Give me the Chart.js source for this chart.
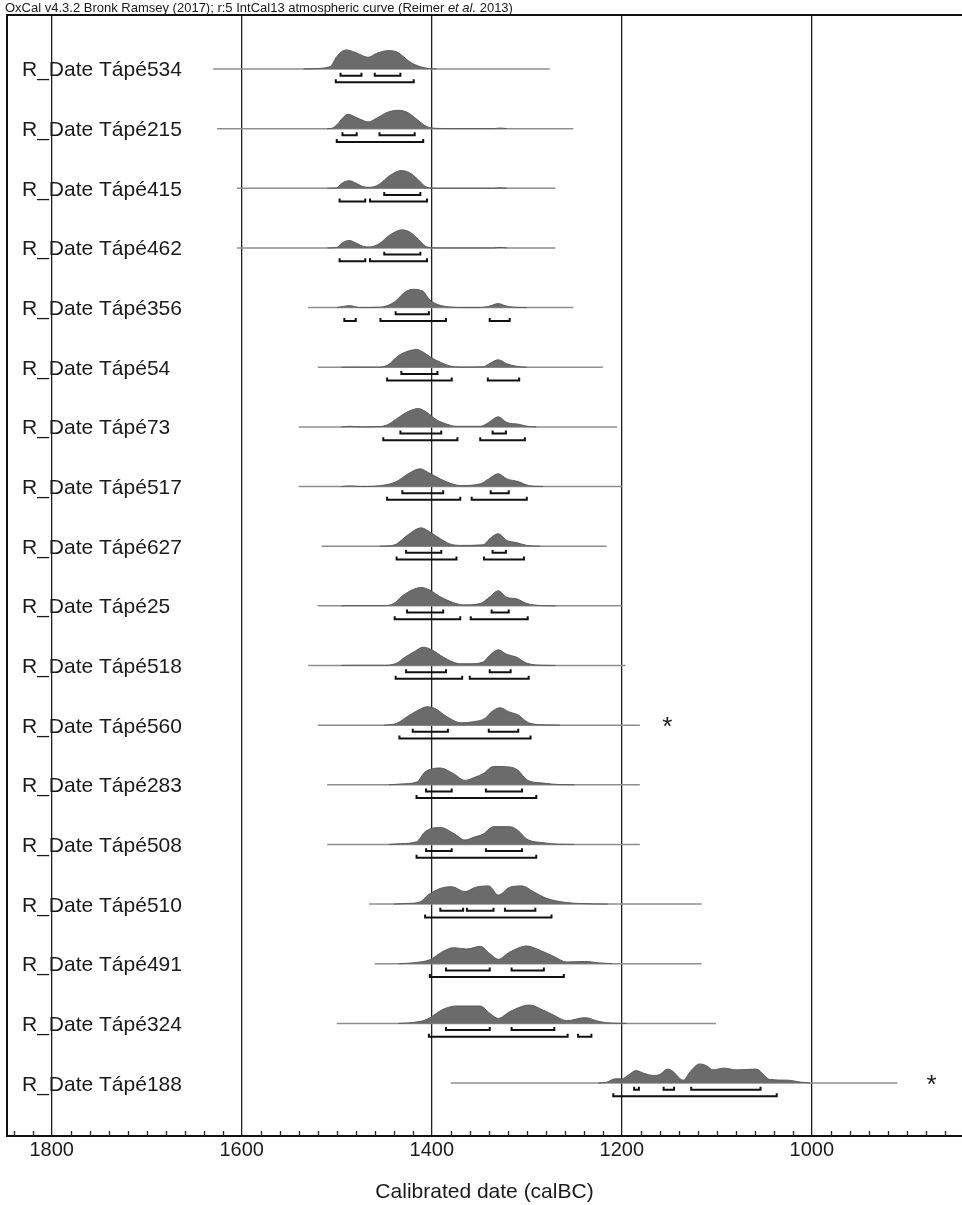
<!DOCTYPE html>
<html lang="en">
<head>
<meta charset="UTF-8">
<title>OxCal multiplot - Tápé R_Dates</title>
<script src="https://cdn.jsdelivr.net/npm/chart.js"></script>
<style>
  html, body { margin: 0; padding: 0; background: #fff; }
</style>
</head>
<body>
<canvas id="oxcal" width="962" height="1205"></canvas>
<script>
// Sample names, top to bottom
const labels = ['R_Date Tápé534', 'R_Date Tápé215', 'R_Date Tápé415', 'R_Date Tápé462', 'R_Date Tápé356',
  'R_Date Tápé54', 'R_Date Tápé73', 'R_Date Tápé517', 'R_Date Tápé627', 'R_Date Tápé25', 'R_Date Tápé518',
  'R_Date Tápé560', 'R_Date Tápé283', 'R_Date Tápé508', 'R_Date Tápé510', 'R_Date Tápé491', 'R_Date Tápé324',
  'R_Date Tápé188'];

// extent of the thin line under each distribution (calBC)
const spanFrom = [1630, 1626, 1605, 1605, 1530, 1520, 1540, 1540, 1516, 1520, 1530, 1520, 1510, 1510, 1466, 1460, 1500, 1380];
const spanTo   = [1276, 1251, 1270, 1270, 1251, 1220, 1205, 1200, 1216, 1200, 1196, 1181, 1181, 1181, 1116, 1116, 1101, 910];

// calibrated probability, [year calBC, relative density]
const curves = [
  [[1535,0],[1528,0.01],[1507,0.12],[1500,0.65],[1495,0.9],[1490,1.0],[1481,0.88],[1472,0.68],[1467,0.61],[1458,0.82],[1446,0.96],[1437,0.9],[1430,0.65],[1423,0.37],[1412,0.12],[1402,0.02],[1395,0]],
  [[1510,0],[1505,0.02],[1498,0.3],[1493,0.6],[1488,0.75],[1481,0.62],[1472,0.42],[1467,0.35],[1458,0.55],[1447,0.85],[1435,0.96],[1426,0.86],[1416,0.5],[1409,0.22],[1402,0.05],[1391,0.01],[1380,0],[1335,0],[1328,0.03],[1321,0]],
  [[1510,0],[1500,0.02],[1495,0.25],[1487,0.4],[1479,0.25],[1472,0.08],[1465,0.05],[1456,0.19],[1444,0.67],[1432,0.93],[1423,0.8],[1414,0.44],[1407,0.1],[1400,0.01],[1390,0],[1335,0],[1328,0.03],[1321,0]],
  [[1510,0],[1500,0.02],[1495,0.24],[1487,0.39],[1479,0.24],[1472,0.08],[1465,0.05],[1456,0.2],[1444,0.68],[1431,0.95],[1422,0.8],[1414,0.44],[1407,0.1],[1400,0.01],[1390,0],[1335,0],[1328,0.03],[1321,0]],
  [[1500,0],[1486,0.1],[1476,0],[1454,0.02],[1439,0.3],[1430,0.74],[1425,0.9],[1419,0.96],[1412,0.91],[1409,0.85],[1402,0.4],[1393,0.15],[1381,0.03],[1365,0],[1349,0],[1339,0.08],[1330,0.21],[1323,0.1],[1314,0.02],[1300,0]],
  [[1495,0],[1486,0.01],[1460,0],[1447,0.09],[1435,0.61],[1425,0.84],[1416,0.93],[1409,0.79],[1400,0.49],[1391,0.26],[1381,0.07],[1369,0.01],[1346,0.02],[1339,0.2],[1330,0.39],[1321,0.18],[1311,0.05],[1300,0]],
  [[1495,0],[1486,0.03],[1475,0],[1454,0.02],[1447,0.1],[1435,0.49],[1425,0.8],[1414,0.96],[1405,0.75],[1395,0.37],[1384,0.14],[1374,0.03],[1349,0.03],[1340,0.23],[1330,0.53],[1321,0.23],[1309,0.14],[1298,0.02],[1290,0]],
  [[1495,0],[1486,0.03],[1475,0],[1447,0.1],[1435,0.32],[1426,0.63],[1412,0.93],[1404,0.74],[1391,0.4],[1381,0.18],[1370,0.05],[1349,0.14],[1340,0.4],[1330,0.67],[1321,0.4],[1309,0.26],[1298,0.05],[1283,0]],
  [[1455,0],[1444,0.02],[1437,0.12],[1426,0.56],[1411,0.96],[1402,0.74],[1391,0.39],[1381,0.12],[1370,0.04],[1346,0.07],[1339,0.39],[1330,0.65],[1321,0.3],[1311,0.19],[1300,0.04],[1286,0]],
  [[1495,0],[1490,0.01],[1450,0.01],[1440,0.12],[1430,0.56],[1411,0.96],[1402,0.82],[1391,0.47],[1377,0.16],[1367,0.05],[1349,0.12],[1339,0.47],[1330,0.79],[1321,0.44],[1311,0.37],[1300,0.12],[1283,0.01],[1270,0]],
  [[1495,0],[1490,0.01],[1450,0.01],[1437,0.12],[1428,0.44],[1419,0.7],[1409,0.96],[1400,0.82],[1388,0.44],[1370,0.09],[1360,0.09],[1346,0.18],[1339,0.53],[1330,0.82],[1321,0.58],[1311,0.44],[1300,0.12],[1283,0.01],[1270,0]],
  [[1450,0],[1437,0.09],[1426,0.44],[1414,0.79],[1405,0.96],[1397,0.88],[1384,0.44],[1369,0.12],[1356,0.18],[1344,0.35],[1337,0.7],[1328,0.91],[1319,0.7],[1309,0.53],[1298,0.12],[1279,0.01],[1265,0]],
  [[1445,0],[1433,0.04],[1416,0.14],[1407,0.67],[1391,0.88],[1377,0.58],[1365,0.23],[1356,0.37],[1346,0.58],[1335,0.96],[1318,0.93],[1309,0.75],[1300,0.26],[1283,0.09],[1265,0.01],[1250,0]],
  [[1445,0],[1433,0.04],[1416,0.14],[1407,0.67],[1391,0.89],[1377,0.58],[1365,0.23],[1356,0.37],[1346,0.54],[1335,0.93],[1318,0.93],[1309,0.72],[1300,0.28],[1283,0.09],[1265,0.01],[1250,0]],
  [[1440,0],[1426,0.03],[1412,0.12],[1404,0.47],[1391,0.82],[1379,0.91],[1365,0.65],[1354,0.88],[1340,0.95],[1330,0.47],[1318,0.88],[1305,0.95],[1293,0.65],[1279,0.3],[1260,0.09],[1244,0.03],[1230,0.01],[1215,0]],
  [[1435,0],[1419,0.05],[1402,0.21],[1388,0.65],[1377,0.84],[1363,0.77],[1349,0.91],[1339,0.53],[1330,0.23],[1318,0.61],[1300,0.93],[1286,0.7],[1272,0.39],[1258,0.09],[1239,0.12],[1223,0.04],[1210,0]],
  [[1435,0],[1419,0.05],[1405,0.21],[1388,0.74],[1374,0.91],[1349,0.91],[1339,0.53],[1330,0.26],[1318,0.61],[1297,0.96],[1283,0.7],[1272,0.44],[1258,0.14],[1239,0.3],[1223,0.09],[1209,0.01],[1195,0]],
  [[1225,0],[1216,0.04],[1207,0.22],[1200,0.22],[1193,0.42],[1185,0.65],[1177,0.51],[1167,0.4],[1160,0.45],[1152,0.73],[1146,0.6],[1139,0.24],[1135,0.15],[1128,0.6],[1118,1.0],[1111,0.91],[1104,0.69],[1093,0.78],[1079,0.69],[1058,0.73],[1053,0.55],[1044,0.18],[1026,0.15],[1012,0.05],[1002,0]]
];

// highest posterior density ranges (calBC)
const ranges68 = [
  [[1496,1474],[1460,1433]], [[1494,1479],[1455,1418]], [[1450,1412]], [[1450,1412]], [[1438,1403]],
  [[1432,1394]], [[1433,1390],[1336,1322]], [[1431,1388],[1338,1319]], [[1427,1390],[1336,1322]],
  [[1426,1388],[1337,1319]], [[1427,1385],[1339,1317]], [[1420,1383],[1340,1309]], [[1406,1379],[1343,1305]],
  [[1406,1379],[1343,1305]], [[1391,1367],[1363,1335],[1323,1291]], [[1385,1339],[1316,1282]],
  [[1385,1339],[1316,1271]], [[1187,1182],[1156,1145],[1127,1054]]
];
const ranges95 = [
  [[1501,1419]], [[1500,1409]], [[1497,1470],[1465,1405]], [[1497,1470],[1465,1405]],
  [[1492,1480],[1454,1385],[1339,1318]], [[1447,1379],[1341,1308]], [[1451,1373],[1349,1302]],
  [[1447,1370],[1358,1300]], [[1437,1374],[1345,1303]], [[1439,1370],[1359,1299]], [[1438,1368],[1360,1298]],
  [[1434,1296]], [[1416,1290]], [[1416,1290]], [[1407,1274]], [[1402,1261]], [[1403,1257],[1246,1232]],
  [[1209,1037]]
];

const tickYears = [1800, 1600, 1400, 1200, 1000];
const flaggedRows = [11, 17];
const flaggedYears = [1152, 874];

const FONT = '"Liberation Sans", Arial, Helvetica, sans-serif';
const AMP = 0.32;                 // peak height, in row units
const LVL68 = 0.112, LVL95 = 0.223, CAP = 0.05;

const datasets = [];
labels.forEach((name, i) => {
  // thin line
  datasets.push({
    data: [{x: spanFrom[i], y: i}, {x: spanTo[i], y: i}],
    borderColor: '#8e8e8e', borderWidth: 1.5, pointRadius: 0, order: 3
  });
  // distribution
  datasets.push({
    data: curves[i].map(([x, d]) => ({x: x, y: i - d * AMP})),
    borderColor: '#5a5a5a', borderWidth: 1, backgroundColor: '#6b6b6b',
    fill: {value: i}, pointRadius: 0, cubicInterpolationMode: 'monotone', order: 2
  });
  // range brackets
  const br = [];
  const addRanges = (list, lvl) => list.forEach(([a, b]) => {
    br.push({x: a, y: i + lvl - CAP}, {x: a, y: i + lvl}, {x: b, y: i + lvl},
            {x: b, y: i + lvl - CAP}, {x: b, y: null});
  });
  addRanges(ranges68[i], LVL68);
  addRanges(ranges95[i], LVL95);
  datasets.push({
    data: br, borderColor: '#111', borderWidth: 2, pointRadius: 0,
    spanGaps: false, borderJoinStyle: 'miter', order: 1
  });
});

const decor = {
  id: 'decor',
  afterDraw(chart) {
    const {ctx, chartArea: a, scales: {x, y}} = chart;
    ctx.save();
    // frame: top and left
    ctx.strokeStyle = '#111';
    ctx.lineWidth = 2;
    ctx.beginPath();
    ctx.moveTo(a.left, a.bottom);
    ctx.lineTo(a.left, a.top);
    ctx.lineTo(a.right, a.top);
    ctx.stroke();
    // minor ticks every 20 years
    ctx.lineWidth = 1.3;
    ctx.strokeStyle = '#222';
    for (let yr = 1840; yr >= 860; yr -= 20) {
      if (yr % 200 === 0) continue;
      const px = Math.round(x.getPixelForValue(yr)) + 0.5;
      ctx.beginPath();
      ctx.moveTo(px, a.bottom);
      ctx.lineTo(px, a.bottom - 5);
      ctx.stroke();
    }
    // sample labels
    ctx.fillStyle = '#1a1a1a';
    ctx.font = '21px ' + FONT;
    ctx.textBaseline = 'alphabetic';
    ctx.textAlign = 'left';
    labels.forEach((name, i) => ctx.fillText(name, 22, y.getPixelForValue(i) + 7.5));
    // asterisks
    ctx.font = '26px ' + FONT;
    ctx.textAlign = 'center';
    flaggedRows.forEach((r, k) => ctx.fillText('*', x.getPixelForValue(flaggedYears[k]), y.getPixelForValue(r) + 10));
    // header
    ctx.textAlign = 'left';
    let tx = 5;
    const ty = 12;
    const parts = [['OxCal v4.3.2 Bronk Ramsey (2017); r:5 IntCal13 atmospheric curve (Reimer ', ''],
                   ['et al.', 'italic '], [' 2013)', '']];
    parts.forEach(([t, st]) => {
      ctx.font = st + '13px ' + FONT;
      ctx.fillText(t, tx, ty);
      tx += ctx.measureText(t).width;
    });
    ctx.restore();
  }
};

new Chart(document.getElementById('oxcal'), {
  type: 'line',
  data: {datasets: datasets},
  options: {
    responsive: false,
    animation: false,
    layout: {padding: {left: 7, top: 15, right: 0, bottom: 0}},
    plugins: {legend: {display: false}, tooltip: {enabled: false}, title: {display: false}},
    scales: {
      x: {
        type: 'linear', reverse: true, min: 842, max: 1847,
        afterBuildTicks: s => { s.ticks = tickYears.map(v => ({value: v})); },
        afterFit: s => { s.height = 69; },
        ticks: {
          font: {family: FONT, size: 20}, color: '#1a1a1a', padding: 2,
          maxRotation: 0, autoSkip: false, callback: v => String(v)
        },
        grid: {color: '#1f1f1f', lineWidth: 1.3, drawTicks: false},
        border: {display: true, color: '#111', width: 2},
        title: {
          display: true, text: 'Calibrated date (calBC)', color: '#1a1a1a',
          font: {family: FONT, size: 21}, padding: {top: 0, bottom: 0}
        }
      },
      y: {type: 'linear', display: false, reverse: true, min: -0.905, max: 17.888}
    }
  },
  plugins: [decor]
});
</script>
</body>
</html>
